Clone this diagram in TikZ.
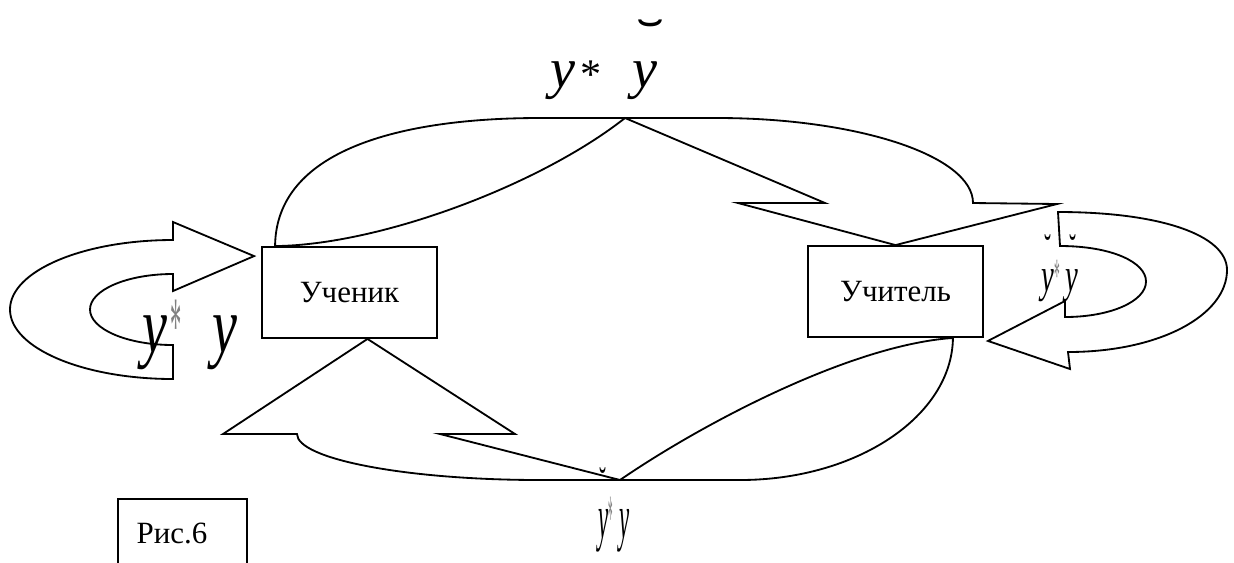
\documentclass[tikz,border=0pt]{standalone}
\usepackage{fontspec}
\setmainfont{Liberation Serif}
\usetikzlibrary{calc}
\begin{document}
\begin{tikzpicture}[x=0.025cm, y=-0.025cm, line join=miter,
  arrline/.style={line width=1.3pt},
  box/.style={draw, line width=1.3pt, minimum width=4.375cm, minimum height=2.275cm, inner sep=0pt, font=\fontsize{22}{26}\selectfont},
  brv/.style={inner sep=0pt, font=\fontsize{30}{30}\selectfont}]
\useasboundingbox (0,0) rectangle (1234,562);
\clip (0,0) rectangle (1234,562);
\node[box] (uchenik) at (349.5,292.5) {Ученик};
\node[box] (uchitel) at (895.5,291.5) {Учитель};
\node[box, minimum width=3.225cm, minimum height=2.5cm, anchor=north west] (risbox) at (117,498) {};
\node[font=\fontsize{22}{26}\selectfont] (ris) at (172,533) {Рис.6};
% top arrow
\coordinate (t1) at ($(uchenik.north west)+(14,0)$);
\coordinate (tapex) at (625,118);
\coordinate (ttip) at (uchitel.north);
\draw[arrline] (t1) .. controls (276,150) and (400,118) .. (540,118) -- (717,118)
  .. controls (858,118) and (973,156) .. (973,203) -- (1057,204) -- (ttip)
  -- (738,203) -- (825,203) -- (tapex) .. controls (540,185) and (380,245) .. (t1) -- cycle;
% left arrow
\coordinate (ltip) at ($(uchenik.north west)+(-7,10)$);
\draw[arrline] (173,240) .. controls (83,240) and (10,271) .. (10,309.5)
  .. controls (10,348) and (83,379) .. (173,379) -- (173,345)
  .. controls (127,345) and (90,329) .. (90,309.5) .. controls (90,290) and (127,274) .. (173,274)
  -- (173,291) -- (ltip) -- (173,222) -- cycle;
% right arrow
\coordinate (rtip) at ($(uchitel.south east)+(4,3)$);
\draw[arrline] (1058,212) .. controls (1160,212) and (1227,235) .. (1227,270)
  .. controls (1227,315) and (1160,352) .. (1068,352) -- (1070,369) -- (rtip)
  -- (1065,301) -- (1065,317) .. controls (1111,317) and (1146,301) .. (1146,281.5)
  .. controls (1146,262) and (1111,246) .. (1060,246) -- cycle;
% bottom arrow
\coordinate (bapex) at ($(uchenik.south)+(18,0)$);
\coordinate (bjoin) at (620,480);
\coordinate (bend) at ($(uchitel.south east)+(-31,0)$);
\draw[arrline] (223,434) -- (bapex) -- (515,434) -- (440,434) -- (bjoin)
  .. controls (700,425) and (850,345) .. (bend) .. controls (952,416) and (857,480) .. (740,480)
  -- (540,480) .. controls (406,480) and (297,459) .. (297,434) -- cycle;
% labels
\node[anchor=base, inner sep=0pt, font=\fontsize{40}{40}\selectfont] (toplab) at (604,87)
  {\textit{y}\hspace{0.1em}\raisebox{-0.02em}{\fontsize{30}{30}\selectfont *}\hspace{0.55em}\textit{y}};
\node[brv, font=\fontsize{40}{40}\selectfont] (topbrv) at (651,24)
  {\scalebox{1.5}[0.9]{\raisebox{-0.5em}[0.19em][0pt]{˘}}};
\node[anchor=base, inner sep=0pt] (leftlab) at (190,352)
  {\scalebox{0.7}[1]{\fontsize{57}{57}\selectfont\textit{y}\hspace{0.05em}\textcolor{gray}{\scalebox{0.4}[1]{*}}\hspace{0.55em}\textit{y}}};
\node[anchor=base, inner sep=0pt] (rightlab) at (1060,291)
  {\scalebox{0.6}[1]{\fontsize{34}{34}\selectfont\textit{y}\textcolor{gray}{\scalebox{0.4}[1]{*}}\hspace{0.2em}\textit{y}}};
\node[brv] (rbrv1) at (1048,238) {\scalebox{0.5}[1]{\raisebox{-0.5em}[0.19em][0pt]{˘}}};
\node[brv] (rbrv2) at (1073,238) {\scalebox{0.5}[1]{\raisebox{-0.5em}[0.19em][0pt]{˘}}};
\node[anchor=base, inner sep=0pt] (botlab) at (614,538)
  {\scalebox{0.36}[1]{\fontsize{45}{45}\selectfont\textit{y}\textcolor{gray}{\scalebox{0.4}[1]{*}}\hspace{0.3em}\textit{y}}};
\node[brv] (bbrv) at (603,471) {\scalebox{0.5}[1]{\raisebox{-0.5em}[0.19em][0pt]{˘}}};
\end{tikzpicture}
\end{document}
